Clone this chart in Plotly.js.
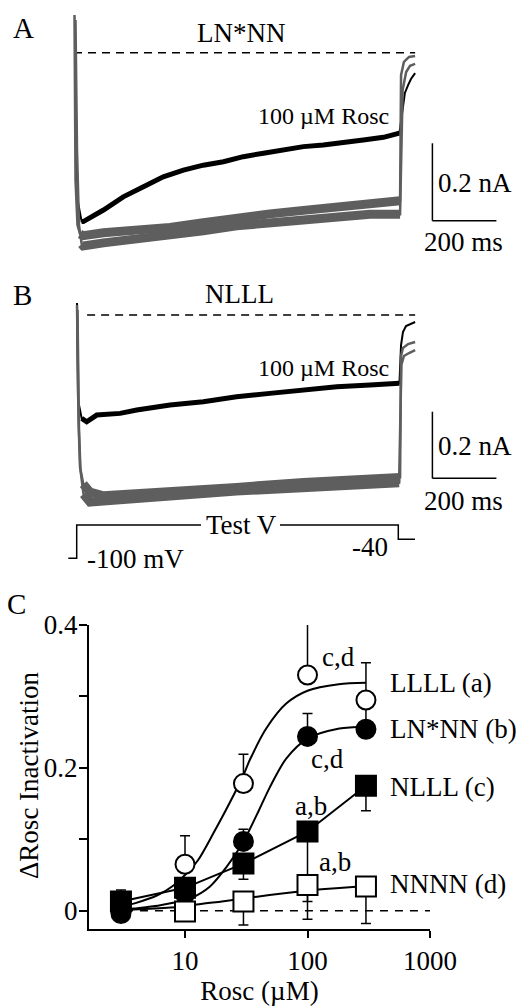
<!DOCTYPE html>
<html>
<head>
<meta charset="utf-8">
<script src="https://cdn.plot.ly/plotly-3.0.1.min.js"></script>
<style>html,body{margin:0;padding:0;background:#fff}#chart{width:528px;height:1006px}</style>
</head>
<body>
<div id="chart"></div>
<script>
// ---------- Panel A (LN*NN) current traces: time (ms), current (nA) ----------
const tA_rosc = [3, 11, 24, 29, 92, 154, 217, 279, 342, 404, 467, 529, 592, 654, 717, 779, 842, 904, 967, 1017, 1022, 1028, 1034, 1044, 1053, 1066];
const iA_rosc = [0, -0.381, -0.437, -0.437, -0.407, -0.373, -0.347, -0.321, -0.304, -0.291, -0.282, -0.269, -0.260, -0.252, -0.243, -0.239, -0.234, -0.226, -0.219, -0.208, -0.174, -0.135, -0.104, -0.084, -0.068, -0.053];
const tA_ctl1 = [1.6, 4.7, 10.9, 18.75, 29, 92, 196, 300, 404, 508, 612, 717, 821, 925, 1019, 1022, 1031, 1047, 1066];
const iA_ctl1 = [0.0975, -0.329, -0.446, -0.469, -0.4735, -0.466, -0.460, -0.452, -0.440, -0.426, -0.417, -0.408, -0.398, -0.391, -0.383, -0.058, -0.024, -0.011, -0.0085];
const tA_ctl2 = [4.7, 9.4, 15.6, 24, 29, 92, 196, 300, 404, 508, 612, 717, 821, 925, 1019, 1027, 1038, 1050, 1066];
const iA_ctl2 = [0.0846, -0.252, -0.446, -0.495, -0.500, -0.492, -0.483, -0.474, -0.461, -0.448, -0.440, -0.431, -0.4225, -0.418, -0.418, -0.0965, -0.050, -0.034, -0.029];

// ---------- Panel B (NLLL) current traces ----------
const tB_rosc = [9.4, 12.5, 24, 39.7, 71, 144, 196, 300, 404, 508, 612, 717, 821, 925, 1017, 1022, 1028, 1037.5, 1050, 1066];
const iB_rosc = [0.036, -0.255, -0.310, -0.320, -0.300, -0.295, -0.285, -0.270, -0.260, -0.245, -0.235, -0.225, -0.215, -0.210, -0.205, -0.090, -0.051, -0.033, -0.027, -0.021];
const tB_ctl1 = [9.4, 14.1, 18.75, 29, 50, 92, 196, 300, 508, 717, 925, 1019, 1022, 1028, 1044, 1066];
const iB_ctl1 = [0.030, -0.315, -0.456, -0.507, -0.531, -0.542, -0.537, -0.532, -0.517, -0.502, -0.492, -0.487, -0.123, -0.099, -0.087, -0.081];
const tB_ctl2 = [10.9, 15.6, 20.3, 29.7, 50, 92, 196, 300, 508, 717, 925, 1016, 1023, 1031, 1047, 1066];
const iB_ctl2 = [0.015, -0.345, -0.465, -0.537, -0.561, -0.558, -0.553, -0.543, -0.528, -0.518, -0.508, -0.503, -0.150, -0.123, -0.114, -0.105];

// ---------- Panel C: dose-response ----------
const llll_x = [10, 30, 100, 300];
const llll_y = [0.065, 0.178, 0.330, 0.295];
const llll_ep = [0.040, 0.041, 0.078, 0.052];
const lnnn_x = [3, 10, 30, 100, 300];
const lnnn_y = [-0.004, 0.024, 0.097, 0.244, 0.254];
const lnnn_ep = [0, 0, 0.017, 0.032, 0.030];
const nlll_x = [3, 10, 30, 100, 300];
const nlll_y = [0.013, 0.032, 0.066, 0.111, 0.175];
const nlll_ep = [0.016, 0, 0, 0, 0];
const nlll_em = [0, 0, 0.022, 0.098, 0.035];
const nnnn_x = [10, 30, 100, 300];
const nnnn_y = [-0.001, 0.013, 0.036, 0.034];
const nnnn_em = [0, 0.033, 0.048, 0.052];
// fitted curves
const llllFit_x = [3, 4, 6, 8, 10, 12.8, 17, 23, 30, 34, 46, 67, 100, 180, 300];
const llllFit_y = [0.006, 0.011, 0.022, 0.035, 0.050, 0.071, 0.108, 0.150, 0.190, 0.212, 0.255, 0.290, 0.308, 0.317, 0.319];
const lnnnFit_x = [3, 3.8, 6, 8, 11, 16, 22, 30, 40, 49, 67, 100, 182, 300];
const lnnnFit_y = [0.001, 0.003, 0.007, 0.011, 0.017, 0.034, 0.062, 0.097, 0.140, 0.172, 0.213, 0.241, 0.255, 0.258];
const nnnnFit_x = [3, 10, 13, 20, 30, 49, 86, 130, 265, 300];
const nnnnFit_y = [0.001, 0.006, 0.009, 0.013, 0.017, 0.022, 0.027, 0.030, 0.034, 0.035];
const zero_x = [2.44, 1000];
const xTicks = [10, 100, 1000];
const xTickText = ['10', '100', '1000'];
const yTicks = [0, 0.1, 0.2, 0.3, 0.4];
const yTickText = ['0', '', '0.2', '', '0.4'];
const seriesLabels = ['LLLL (a)', 'LN*NN (b)', 'NLLL (c)', 'NNNN (d)'];

// ---------- layout helpers ----------
const W = 528, H = 1006;
const PX = x => x / W;
const PY = y => 1 - y / H;
const FONT = "'Liberation Serif', 'Times New Roman', Times, serif";
const GRAY = '#5e5e5e';

const traces = [];
function trace(t, i, yax, color, width, from, to) {
  const a = from || 0, b = to || t.length;
  traces.push({x: t.slice(a, b), y: i.slice(a, b), xaxis: 'x', yaxis: yax, mode: 'lines', line: {color: color, width: width}});
}
// Panel A: thin full sweep, then thick (noisy) plateau
traces.push({x: [0, 1066], y: [0, 0], xaxis: 'x', yaxis: 'y', mode: 'lines', line: {color: '#000', width: 1.5, dash: '8px,6px'}});
trace(tA_rosc, iA_rosc, 'y', '#000', 2);
trace(tA_rosc, iA_rosc, 'y', '#000', 5, 2, 20);
trace(tA_ctl1, iA_ctl1, 'y', GRAY, 2.5);
trace(tA_ctl2, iA_ctl2, 'y', GRAY, 2.5);
trace(tA_ctl1, iA_ctl1, 'y', GRAY, 9, 3, 15);
trace(tA_ctl2, iA_ctl2, 'y', GRAY, 9, 3, 15);
// Panel B
traces.push({x: [41, 1066], y: [0, 0], xaxis: 'x', yaxis: 'y2', mode: 'lines', line: {color: '#000', width: 1.5, dash: '8px,6px'}});
trace(tB_rosc, iB_rosc, 'y2', '#000', 2);
trace(tB_rosc, iB_rosc, 'y2', '#000', 5, 2, 15);
trace(tB_ctl1, iB_ctl1, 'y2', GRAY, 2.5);
trace(tB_ctl2, iB_ctl2, 'y2', GRAY, 2.5);
trace(tB_ctl1, iB_ctl1, 'y2', GRAY, 9, 3, 12);
trace(tB_ctl2, iB_ctl2, 'y2', GRAY, 9, 3, 12);
// Panel C lines
const cax = {xaxis: 'x2', yaxis: 'y3', cliponaxis: false};
traces.push(Object.assign({x: zero_x, y: [0, 0], mode: 'lines', line: {color: '#000', width: 1.5, dash: '8px,7px'}}, cax));
traces.push(Object.assign({x: llllFit_x, y: llllFit_y, mode: 'lines', line: {color: '#000', width: 2, shape: 'spline', smoothing: 0.8}}, cax));
traces.push(Object.assign({x: lnnnFit_x, y: lnnnFit_y, mode: 'lines', line: {color: '#000', width: 2, shape: 'spline', smoothing: 0.8}}, cax));
traces.push(Object.assign({x: nnnnFit_x, y: nnnnFit_y, mode: 'lines', line: {color: '#000', width: 2, shape: 'spline', smoothing: 0.8}}, cax));
traces.push(Object.assign({x: nlll_x, y: nlll_y, mode: 'lines', line: {color: '#000', width: 2}}, cax));
// Panel C markers
const eb = (p, m) => ({type: 'data', symmetric: false, array: p, arrayminus: m, color: '#000', thickness: 1.5, width: 5});
const zeros = n => new Array(n).fill(0);
traces.push(Object.assign({x: lnnn_x, y: lnnn_y, mode: 'markers', marker: {symbol: 'circle', size: 19, color: '#000', line: {color: '#000', width: 2}}, error_y: eb(lnnn_ep, zeros(5))}, cax));
traces.push(Object.assign({x: nlll_x, y: nlll_y, mode: 'markers', marker: {symbol: 'square', size: 20, color: '#000', line: {color: '#000', width: 2}}, error_y: eb(nlll_ep, nlll_em)}, cax));
traces.push(Object.assign({x: llll_x, y: llll_y, mode: 'markers', marker: {symbol: 'circle', size: 19, color: '#fff', line: {color: '#000', width: 2}}, error_y: eb(llll_ep, zeros(4))}, cax));
traces.push(Object.assign({x: nnnn_x, y: nnnn_y, mode: 'markers', marker: {symbol: 'square', size: 20, color: '#fff', line: {color: '#000', width: 2}}, error_y: eb(zeros(4), nnnn_em)}, cax));

const hidden = {visible: false, showgrid: false, zeroline: false, fixedrange: true};
const layout = {
  width: W, height: H,
  margin: {l: 0, r: 0, t: 0, b: 0, pad: 0},
  paper_bgcolor: '#fff', plot_bgcolor: 'rgba(0,0,0,0)',
  showlegend: false,
  font: {family: FONT, size: 27, color: '#000'},
  xaxis: Object.assign({domain: [0, 1], range: [-231.25, 1418.75], anchor: 'y'}, hidden),
  yaxis: Object.assign({domain: [PY(275), 1], range: [-0.57516, 0.13635], anchor: 'x'}, hidden),
  yaxis2: Object.assign({domain: [PY(580), PY(280)], range: [-0.79460, 0.10495], anchor: 'x'}, hidden),
  xaxis2: {
    type: 'log', domain: [PX(89), PX(430)], range: [0.2163, 3], anchor: 'y3',
    showline: true, linecolor: '#000', linewidth: 2, mirror: false,
    ticks: 'outside', ticklen: 7, tickwidth: 2, tickcolor: '#000',
    tickmode: 'array', tickvals: xTicks, ticktext: xTickText,
    tickfont: {family: FONT, size: 27}, showgrid: false, zeroline: false,
    title: {text: 'Rosc (µM)', font: {family: FONT, size: 27}, standoff: 2}
  },
  yaxis3: {
    domain: [PY(929), PY(625)], range: [-0.02562, 0.4], anchor: 'x2',
    showline: true, linecolor: '#000', linewidth: 2,
    ticks: 'outside', ticklen: 8, tickwidth: 2, tickcolor: '#000',
    tickmode: 'array', tickvals: yTicks, ticktext: yTickText,
    ticklabelstandoff: -4,
    tickfont: {family: FONT, size: 27}, showgrid: false, zeroline: false
  },
  shapes: [
    {type: 'line', xref: 'x', yref: 'y', x0: 1120, x1: 1120, y0: -0.2344, y1: -0.4347, line: {color: '#000', width: 1.5}},
    {type: 'line', xref: 'x', yref: 'y', x0: 1120, x1: 1320, y0: -0.4347, y1: -0.4347, line: {color: '#000', width: 1.5}},
    {type: 'line', xref: 'x', yref: 'y2', x0: 1120, x1: 1120, y0: -0.290, y1: -0.4897, line: {color: '#000', width: 1.5}},
    {type: 'line', xref: 'x', yref: 'y2', x0: 1120, x1: 1320, y0: -0.4897, y1: -0.4897, line: {color: '#000', width: 1.5}},
    {type: 'path', xref: 'paper', yref: 'paper', path: `M ${PX(68.3)} ${PY(558.3)} L ${PX(76.7)} ${PY(558.3)} L ${PX(76.7)} ${PY(525)} L ${PX(201)} ${PY(525)}`, line: {color: '#000', width: 1.5}},
    {type: 'path', xref: 'paper', yref: 'paper', path: `M ${PX(280)} ${PY(525)} L ${PX(398.3)} ${PY(525)} L ${PX(398.3)} ${PY(539.3)} L ${PX(415)} ${PY(539.3)}`, line: {color: '#000', width: 1.5}}
  ],
  annotations: []
};
function ann(text, x, y, size, opts) {
  layout.annotations.push(Object.assign({text: text, xref: 'paper', yref: 'paper', x: PX(x), y: PY(y), xanchor: 'center', yanchor: 'middle', showarrow: false, font: {family: FONT, size: size, color: '#000'}}, opts || {}));
}
ann('A', 23.5, 28, 29);
ann('LN*NN', 241, 33, 27);
ann('100 µM Rosc', 323, 116, 24);
ann('0.2 nA', 436, 183, 27, {xanchor: 'left'});
ann('200 ms', 463.5, 242, 27);
ann('B', 22.7, 295, 29);
ann('NLLL', 239.5, 294, 27);
ann('100 µM Rosc', 323, 368, 24);
ann('0.2 nA', 436, 446, 27, {xanchor: 'left'});
ann('200 ms', 463.5, 501, 27);
ann('Test V', 241, 525, 27);
ann('-100 mV', 135, 559, 27);
ann('-40', 370, 547, 27);
ann('C', 16, 604, 29);
ann('ΔRosc Inactivation', 29, 775, 27, {textangle: -90});
ann(seriesLabels[0], 388, 683, 27, {xanchor: 'left'});
ann(seriesLabels[1], 388, 729, 27, {xanchor: 'left'});
ann(seriesLabels[2], 388, 787, 27, {xanchor: 'left'});
ann(seriesLabels[3], 388, 884, 27, {xanchor: 'left'});
ann('c,d', 338, 657, 27);
ann('c,d', 327, 759, 27);
ann('a,b', 311, 806, 27);
ann('a,b', 335, 862, 27);

Plotly.newPlot('chart', traces, layout, {staticPlot: true, displayModeBar: false});
</script>
</body>
</html>
